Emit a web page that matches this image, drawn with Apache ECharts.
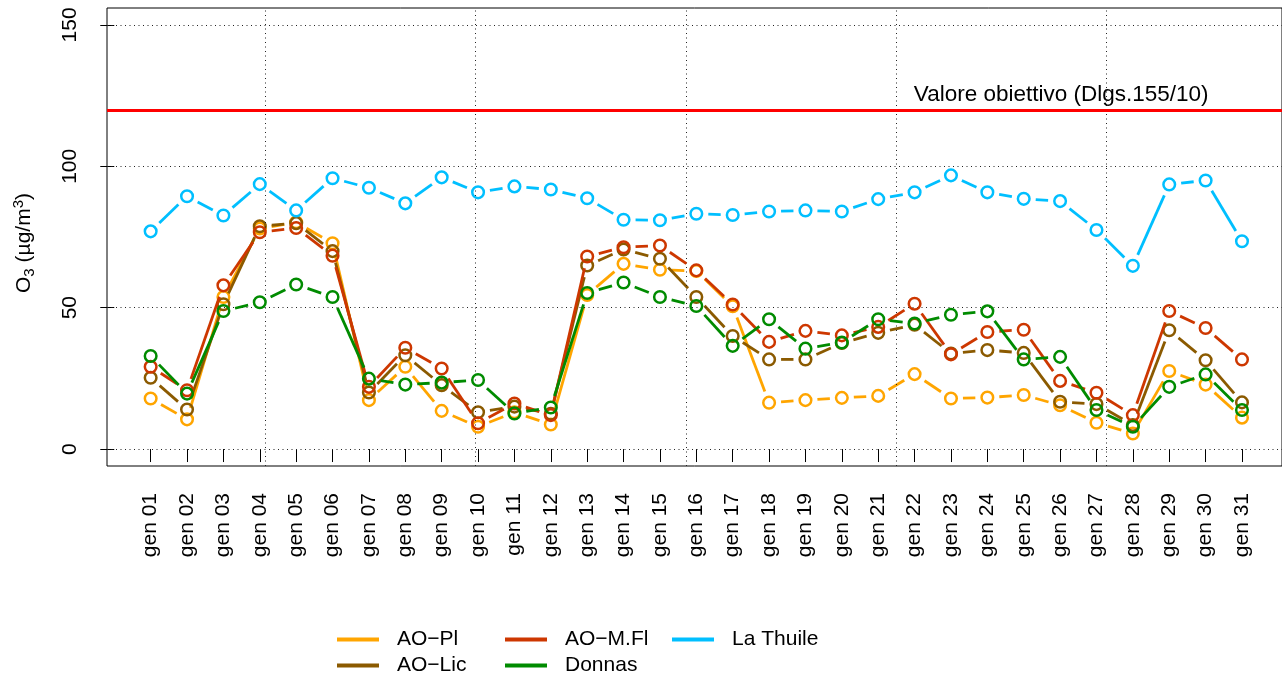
<!DOCTYPE html>
<html><head><meta charset="utf-8">
<script src="https://cdn.jsdelivr.net/npm/echarts@6/dist/echarts.min.js"></script>
<style>html,body{margin:0;padding:0;background:#fff}#c{width:1282px;height:681px}</style>
</head><body><div id="c"></div>
<script>
// ---- data ----
const days = ['gen 01','gen 02','gen 03','gen 04','gen 05','gen 06','gen 07','gen 08','gen 09','gen 10',
  'gen 11','gen 12','gen 13','gen 14','gen 15','gen 16','gen 17','gen 18','gen 19','gen 20',
  'gen 21','gen 22','gen 23','gen 24','gen 25','gen 26','gen 27','gen 28','gen 29','gen 30','gen 31'];
const aoPl = [17.9,10.5,53.8,78.0,80.2,72.8,17.3,29.1,13.5,7.9,13.0,8.7,54.5,65.5,63.4,63.0,50.5,16.4,17.3,18.1,18.8,26.5,17.9,18.2,19.1,15.5,9.3,5.5,27.6,22.8,11.1];
const aoLic = [25.2,14.0,51.2,78.8,79.9,70.0,20.0,33.2,22.6,13.0,15.0,12.5,64.9,70.6,67.3,53.8,40.0,31.7,31.7,37.5,41.1,44.0,33.8,35.0,34.0,16.7,15.9,8.5,42.0,31.4,16.5];
const aoMFl = [29.1,20.8,57.9,76.7,78.2,68.4,22.0,35.8,28.5,9.1,16.1,12.0,68.1,71.4,72.0,63.2,51.1,37.9,41.8,40.2,43.2,51.4,33.5,41.4,42.2,24.1,19.9,12.0,48.8,42.8,31.7];
const donnas = [32.9,19.6,48.8,51.9,58.2,53.8,24.9,22.8,23.5,24.4,12.6,14.7,55.2,58.9,53.8,50.6,36.5,45.9,35.5,37.7,45.9,44.4,47.5,48.7,31.7,32.6,13.8,7.9,22.0,26.4,13.8];
const laThuile = [77.0,89.4,82.6,93.7,84.4,95.8,92.4,86.9,96.1,90.8,92.9,91.8,88.7,81.1,80.9,83.2,82.8,84.0,84.4,84.0,88.4,90.8,96.8,90.8,88.5,87.7,77.5,64.8,93.6,95.0,73.5];
const seriesNames = ['AO\u2212Pl','AO\u2212Lic','AO\u2212M.Fl','Donnas','La Thuile'];
const yTicks = [0,50,100,150];
const targetValue = 120;
const targetLabel = 'Valore obiettivo (Dlgs.155/10)';
const targetLabelDay = 30;
const gridDays = [4.14, 9.93, 15.71, 21.49, 27.28];

// ---- styles ----
const colors = ['#FFA500','#8B5A00','#CD3700','#008B00','#00BFFF'];
const allValues = [aoPl, aoLic, aoMFl, donnas, laThuile];
const FONT = 'Liberation Sans, Arial, Helvetica, sans-serif';
const dotted = {type:[1,3.5], color:'#222', width:1};

function makeRender(color){
  return function(params, api){
    const x = api.value(0), y = api.value(1);
    const xn = api.value(2), yn = api.value(3);
    const p = api.coord([x, y]);
    const children = [];
    if (typeof yn === 'number' && isFinite(yn) && isFinite(xn)) {
      const q = api.coord([xn, yn]);
      const dx = q[0]-p[0], dy = q[1]-p[1], L = Math.hypot(dx, dy);
      const g = 12;
      if (L > 2*g) {
        const ux = dx/L, uy = dy/L;
        children.push({type:'line', shape:{x1:p[0]+ux*g, y1:p[1]+uy*g, x2:q[0]-ux*g, y2:q[1]-uy*g},
          style:{stroke:color, lineWidth:2.8, lineCap:'butt'}});
      }
    }
    children.push({type:'circle', shape:{cx:p[0], cy:p[1], r:5.8}, style:{fill:'none', stroke:color, lineWidth:2.5}});
    return {type:'group', children};
  };
}

const dataSeries = allValues.map((vals, k) => ({
  type:'custom', name: seriesNames[k],
  itemStyle:{color: colors[k]},
  encode:{x:0, y:1},
  renderItem: makeRender(colors[k]),
  data: vals.map((v, i) => [i+1, v, i+1 < vals.length ? i+2 : NaN, i+1 < vals.length ? vals[i+1] : NaN]),
  z: 3 + k, animation:false
}));

const gridLines = [];
yTicks.forEach(v => gridLines.push({yAxis:v, lineStyle:dotted}));
gridDays.forEach(d => gridLines.push({xAxis:d, lineStyle:dotted}));
gridLines.push({yAxis: targetValue, lineStyle:{type:'solid', color:'#FF0000', width:3}});

const legendPos = [[337,629],[337,655],[505,629],[505,655],[672,629]];

const option = {
  animation:false,
  backgroundColor:'#fff',
  grid:{left:107, right:0, top:8, bottom:215, show:true, borderColor:'#000', borderWidth:1, backgroundColor:'transparent'},
  xAxis:{type:'value', min:-0.2, max:32.1,
    axisLine:{show:false}, splitLine:{show:false},
    axisTick:{show:true, customValues: days.map((d,i)=>i+1), length:13, lineStyle:{color:'#000', width:1}},
    axisLabel:{show:true, customValues: days.map((d,i)=>i+1), rotate:90, fontSize:21, color:'#000', fontFamily:FONT, margin:27,
      formatter: v => days[Math.round(v)-1] || ''}
  },
  yAxis:{type:'value', min:-6, max:156,
    axisLine:{show:false}, splitLine:{show:false},
    axisTick:{show:true, customValues: yTicks, length:14, lineStyle:{color:'#000', width:1}},
    axisLabel:{show:true, customValues: yTicks, rotate:90, fontSize:21, color:'#000', fontFamily:FONT, margin:26}
  },
  legend: seriesNames.map((n,k) => ({
    data:[n], left:legendPos[k][0], top:legendPos[k][1], padding:0, icon:'rect',
    itemWidth:42, itemHeight:4, selectedMode:false,
    textStyle:{fontSize:21, color:'#000', fontFamily:FONT, padding:[0,0,0,13]}
  })),
  graphic:[{type:'text', x:24, y:243, rotation:Math.PI/2, silent:true,
    style:{text:'{a|O}{s|3}{a| (µg/m}{p|3}{a|)}', align:'center', verticalAlign:'middle',
      rich:{a:{fontSize:21, fontFamily:FONT, fill:'#000', lineHeight:26},
            s:{fontSize:15, fontFamily:FONT, fill:'#000', lineHeight:15, verticalAlign:'bottom'},
            p:{fontSize:15, fontFamily:FONT, fill:'#000', lineHeight:15, verticalAlign:'top'}}}}],
  series:[
    {type:'line', name:'_grid', data:[], silent:true, z:1,
      markLine:{symbol:['none','none'], silent:true, animation:false, label:{show:false}, data:gridLines}},
    {type:'line', name:'_label', data:[], silent:true, z:2,
      markLine:{symbol:['none','none'], silent:true, animation:false,
        lineStyle:{color:'rgba(255,255,255,0)', width:1, type:'solid'},
        label:{show:true, position:'insideEndTop', formatter:targetLabel, fontSize:22.5, color:'#000', fontFamily:FONT,
          distance:3, offset:[6, 0]},
        data:[[{coord:[targetLabelDay-5, targetValue]},{coord:[targetLabelDay, targetValue]}]]}}
  ].concat(dataSeries)
};
echarts.init(document.getElementById('c')).setOption(option);
</script></body></html>
